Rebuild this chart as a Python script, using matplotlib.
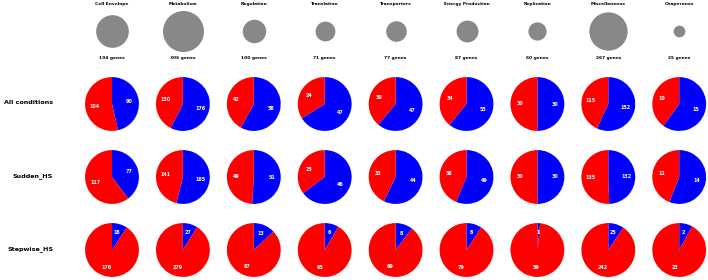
import matplotlib
matplotlib.use('Agg')
import matplotlib.pyplot as plt

categories = ['Cell Envelope', 'Metabolism', 'Regulation', 'Translation', 'Transporters',
              'Energy Production', 'Replication', 'Miscellaneous', 'Chaperones']
totals = [194, 306, 100, 71, 77, 87, 60, 267, 25]
conditions = ['All conditions', 'Sudden_HS', 'Stepwise_HS']
# blue = first slice, red = second slice
blue = {'All conditions': [90, 176, 58, 47, 47, 53, 30, 152, 15],
        'Sudden_HS':      [77, 165, 51, 46, 44, 49, 30, 132, 14],
        'Stepwise_HS':    [18, 27, 13, 6, 8, 8, 1, 25, 2]}
red = {'All conditions': [104, 130, 42, 24, 30, 34, 30, 115, 10],
       'Sudden_HS':      [117, 141, 49, 25, 33, 38, 30, 135, 11],
       'Stepwise_HS':    [176, 279, 87, 65, 69, 79, 59, 242, 23]}

W, H = 708, 280
fig = plt.figure(figsize=(W / 100, H / 100), dpi=100)

X0, DX = 112, 70.9          # pie column centres (px)
ROWS = [104, 177, 250]       # pie row centres (px from top)
S = 56                       # axes size (px)

def box(cx, cy, w, h):
    return [(cx - w / 2) / W, 1 - (cy + h / 2) / H, w / W, h / H]

# top row: size circles
for j, (cat, n) in enumerate(zip(categories, totals)):
    cx = X0 + j * DX
    ax = fig.add_axes(box(cx, 31, DX, 62))
    ax.scatter([0], [0], s=n * 2.85, color='#888888', linewidths=0)
    ax.set_xlim(-1, 1); ax.set_ylim(-1, 1)
    ax.axis('off')
    fig.text(cx / W, 1 - 4 / H, cat, ha='center', va='center', fontsize=3.2, fontweight='bold')
    fig.text(cx / W, 1 - 58 / H, f'{n} genes', ha='center', va='center', fontsize=3.2, fontweight='bold')

for i, cond in enumerate(conditions):
    cy = ROWS[i]
    fig.text(53 / W, 1 - (cy - 1) / H, cond, ha='right', va='center', fontsize=4.6, fontweight='bold')
    for j in range(len(categories)):
        cx = X0 + j * DX
        ax = fig.add_axes(box(cx, cy, S, S))
        vals = [blue[cond][j], red[cond][j]]
        tot = sum(vals)
        _, texts, auto = ax.pie(vals, colors=['blue', 'red'], startangle=90, counterclock=False,
                                autopct=lambda p, t=tot: f'{round(p * t / 100)}', pctdistance=0.66,
                                wedgeprops=dict(linewidth=0),
                                textprops=dict(color='white', fontsize=3.5, fontweight='bold'))
        ax.set_xlim(-1.04, 1.04); ax.set_ylim(-1.04, 1.04)
        ax.set_aspect('equal')

plt.savefig('out.png', dpi=100)
